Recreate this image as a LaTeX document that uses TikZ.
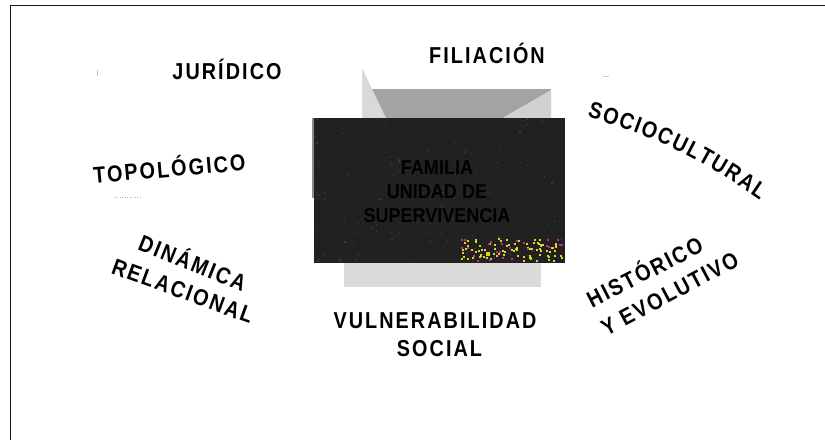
\documentclass[tikz,border=0pt]{standalone}
\usepackage{fontspec}
\setmainfont{Liberation Sans}
\newfontfamily\narrowfont[FakeStretch=0.9]{Liberation Sans}
\newfontfamily\labelfont[FakeStretch=0.86, LetterSpace=9]{Liberation Sans}
\usepackage{tikz}
\usetikzlibrary{decorations.text}

\tikzset{
  dimension/.style={font=\labelfont\bfseries\fontsize{13.1}{15}\selectfont, inner sep=0pt, anchor=base},
  core/.style={font=\narrowfont\bfseries\fontsize{11.4}{13.66}\selectfont, align=center, inner sep=0pt, text=black}
}

\begin{document}
\begin{tikzpicture}

        \useasboundingbox (0,0) rectangle (16.5,8.8);
        \fill[white] (0,0) rectangle (16.5,8.8);

        % frame
        \draw[line width=1.1pt, black!90] (0.21,0) -- (0.21,8.69) -- (16.5,8.69);

        % grey sheets behind the centre
        \fill[black!36] (7.24,7.02) rectangle (11.02,6.44);
        \fill[black!15] (7.24,7.44) -- (7.24,6.44) -- (7.72,6.44) -- cycle;
        \fill[black!18] (11.02,7.0) -- (11.02,6.44) -- (10.05,6.44) -- cycle;
        \fill[black!14] (6.88,3.54) rectangle (10.82,3.06);
        \fill[black!45] (6.24,6.44) rectangle (6.28,4.84);

        % centre
        \fill[black!87] (6.28,6.44) rectangle (11.30,3.54);
        \pgfmathsetseed{11}
        \foreach \k in {1,...,260}{
            \pgfmathsetmacro{\sx}{6.3+4.95*rnd}
            \pgfmathsetmacro{\sy}{3.56+2.85*rnd}
            \fill[black!78] (\sx,\sy) rectangle ++(0.025,0.025);
        }
        \foreach \k in {1,...,90}{
            \pgfmathsetmacro{\sx}{9.2+2.05*rnd}
            \pgfmathsetmacro{\sy}{3.56+0.44*rnd}
            \fill[yellow!85!black] (\sx,\sy) rectangle ++(0.04,0.04);
        }
        \foreach \k in {1,...,25}{
            \pgfmathsetmacro{\sx}{9.2+2.05*rnd}
            \pgfmathsetmacro{\sy}{3.56+0.44*rnd}
            \fill[magenta!80!black] (\sx,\sy) rectangle ++(0.04,0.04);
        }
        \node[core] (familia) at (8.74,4.97) {FAMILIA\\UNIDAD DE\\SUPERVIVENCIA};

        % small marks
        \draw[black!25] (1.94,7.40) -- (1.94,7.28);
        \draw[black!30, densely dotted] (2.30,4.86) -- (2.84,4.86);
        \draw[black!20] (12.06,7.28) -- (12.18,7.28);

        \node[dimension] (filiacion) at (9.74,7.52) {FILIACIÓN};
        \node[dimension] (juridico) at (4.54,7.20) {JURÍDICO};
        \node[dimension, rotate=5] (topologico) at (3.40,5.26) {TOPOLÓGICO};
        \node[dimension, rotate=-22] (dinamica) at (3.79,3.39) {DINÁMICA};
        \node[dimension, rotate=-20] (relacional) at (3.60,2.83) {RELACIONAL};
        \node[dimension] (vulnerabilidad) at (8.70,2.22) {VULNERABILIDAD};
        \node[dimension] (social) at (8.79,1.66) {SOCIAL};
        \node[dimension, rotate=27] (historico) at (12.97,3.21) {HISTÓRICO};
        \node[dimension, rotate=28] (evolutivo) at (13.47,2.79) {Y EVOLUTIVO};

        \path[decorate, decoration={text along path, text align=fit to path,
            text={|\labelfont\bfseries\fontsize{13.1}{15}\selectfont|SOCIOCULTURAL}}]
            (11.74,6.46) to[bend left=9] (15.20,4.80);

\end{tikzpicture}
\end{document}
